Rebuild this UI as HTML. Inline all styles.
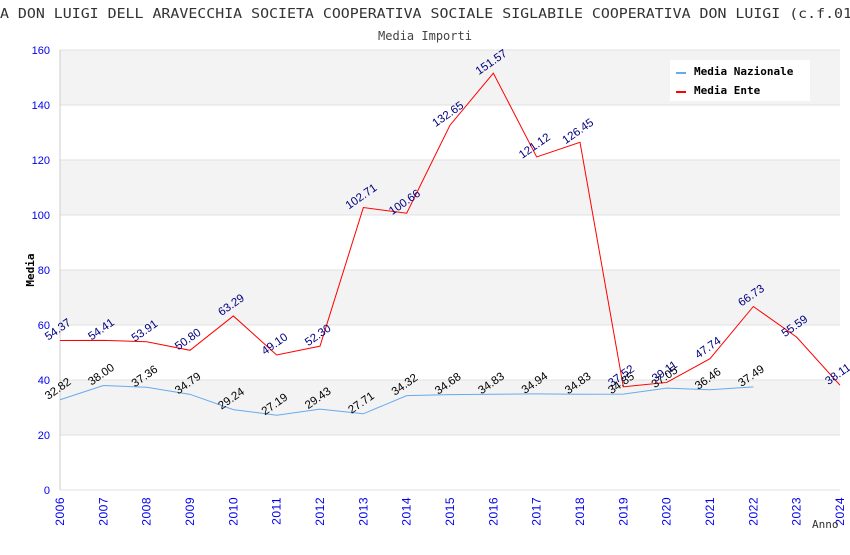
<!DOCTYPE html>
<html><head><meta charset="utf-8"><style>
body{margin:0;background:#fff;}
svg text{font-family:"DejaVu Sans Mono","Liberation Mono",monospace;}
svg text.sans{font-family:"Liberation Sans",sans-serif;}
</style></head><body>
<svg id="chart" width="850" height="550" xmlns="http://www.w3.org/2000/svg">
<text x="0" y="18" textLength="852" lengthAdjust="spacingAndGlyphs" font-size="13" fill="#333">A DON LUIGI DELL ARAVECCHIA SOCIETA COOPERATIVA SOCIALE SIGLABILE COOPERATIVA DON LUIGI (c.f.01</text>
<text x="425" y="40" text-anchor="middle" font-size="12" fill="#444">Media Importi</text>
<g id="grid"></g>
<g id="series"></g>
<g id="labels"></g>
<text transform="translate(34,270) rotate(-90)" text-anchor="middle" font-size="11" font-weight="bold" fill="#000">Media</text>
<text x="812" y="528" font-size="11" fill="#333">Anno</text>
<g>
<rect x="670" y="60" width="140" height="41" fill="#fff"/>
<line x1="676" y1="73" x2="686" y2="73" stroke="#66aaee" stroke-width="2"/>
<text x="694" y="75" font-size="11" font-weight="bold">Media Nazionale</text>
<line x1="676" y1="92" x2="686" y2="92" stroke="#ff0000" stroke-width="2"/>
<text x="694" y="94" font-size="11" font-weight="bold">Media Ente</text>
</g>
</svg>
<script>
const years=[2006,2007,2008,2009,2010,2011,2012,2013,2014,2015,2016,2017,2018,2019,2020,2021,2022,2023,2024];
const ente=[54.37,54.41,53.91,50.80,63.29,49.10,52.30,102.71,100.66,132.65,151.57,121.12,126.45,37.52,39.11,47.74,66.73,55.59,38.11];
const nazionale=[32.82,38.00,37.36,34.79,29.24,27.19,29.43,27.71,34.32,34.68,34.83,34.94,34.83,34.85,37.05,36.46,37.49];
const yTicks=[0,20,40,60,80,100,120,140,160];
const X0=60,X1=840,Y0=490,Y1=50,YMAX=160;
const xs=i=>X0+i*(X1-X0)/(years.length-1);
const ys=v=>Y0-v*(Y0-Y1)/YMAX;
const NS='http://www.w3.org/2000/svg';
function mk(t,a,p){const e=document.createElementNS(NS,t);for(const k in a)e.setAttribute(k,a[k]);p.appendChild(e);return e;}
const grid=document.getElementById('grid');
for(let k=0;k<yTicks.length-1;k++){if(k%2===1){const r=mk('rect',{x:X0,y:ys(yTicks[k+1]),width:X1-X0,height:ys(yTicks[k])-ys(yTicks[k+1]),fill:'#f3f3f3'},grid);

}}
yTicks.forEach(v=>{const l=mk('line',{x1:X0,x2:X1,y1:ys(v),y2:ys(v),stroke:'#e0e0e0'},grid);


const t=mk('text',{x:X0-10,y:ys(v)+4,'text-anchor':'end','font-size':11,fill:'#0000ee',class:'sans'},grid);t.textContent=v;

});
mk('line',{x1:X0,x2:X0,y1:Y1,y2:Y0,stroke:'#ccc'},grid);
years.forEach((y,i)=>{const t=mk('text',{transform:`translate(${xs(i)+4},${Y0+7}) rotate(-90)`,'text-anchor':'end','font-size':12,fill:'#0000ee',class:'sans','letter-spacing':'0.5'},grid);t.textContent=y;

});
const ser=document.getElementById('series'),lab=document.getElementById('labels');
function draw(vals,color,lc,name){const p=mk('polyline',{points:vals.map((v,i)=>xs(i)+','+ys(v)).join(' '),fill:'none',stroke:color,'stroke-width':1},ser);


vals.forEach((v,i)=>{const t=mk('text',{transform:`translate(${xs(i)},${ys(v)-8}) rotate(-35)`,'text-anchor':'middle','font-size':11.5,fill:lc,class:'sans'},lab);t.textContent=v.toFixed(2);

});}
draw(nazionale,'#66aaee','#000','series-media-nazionale');
draw(ente,'#ff0000','#000080','series-media-ente');
</script>
</body></html>
